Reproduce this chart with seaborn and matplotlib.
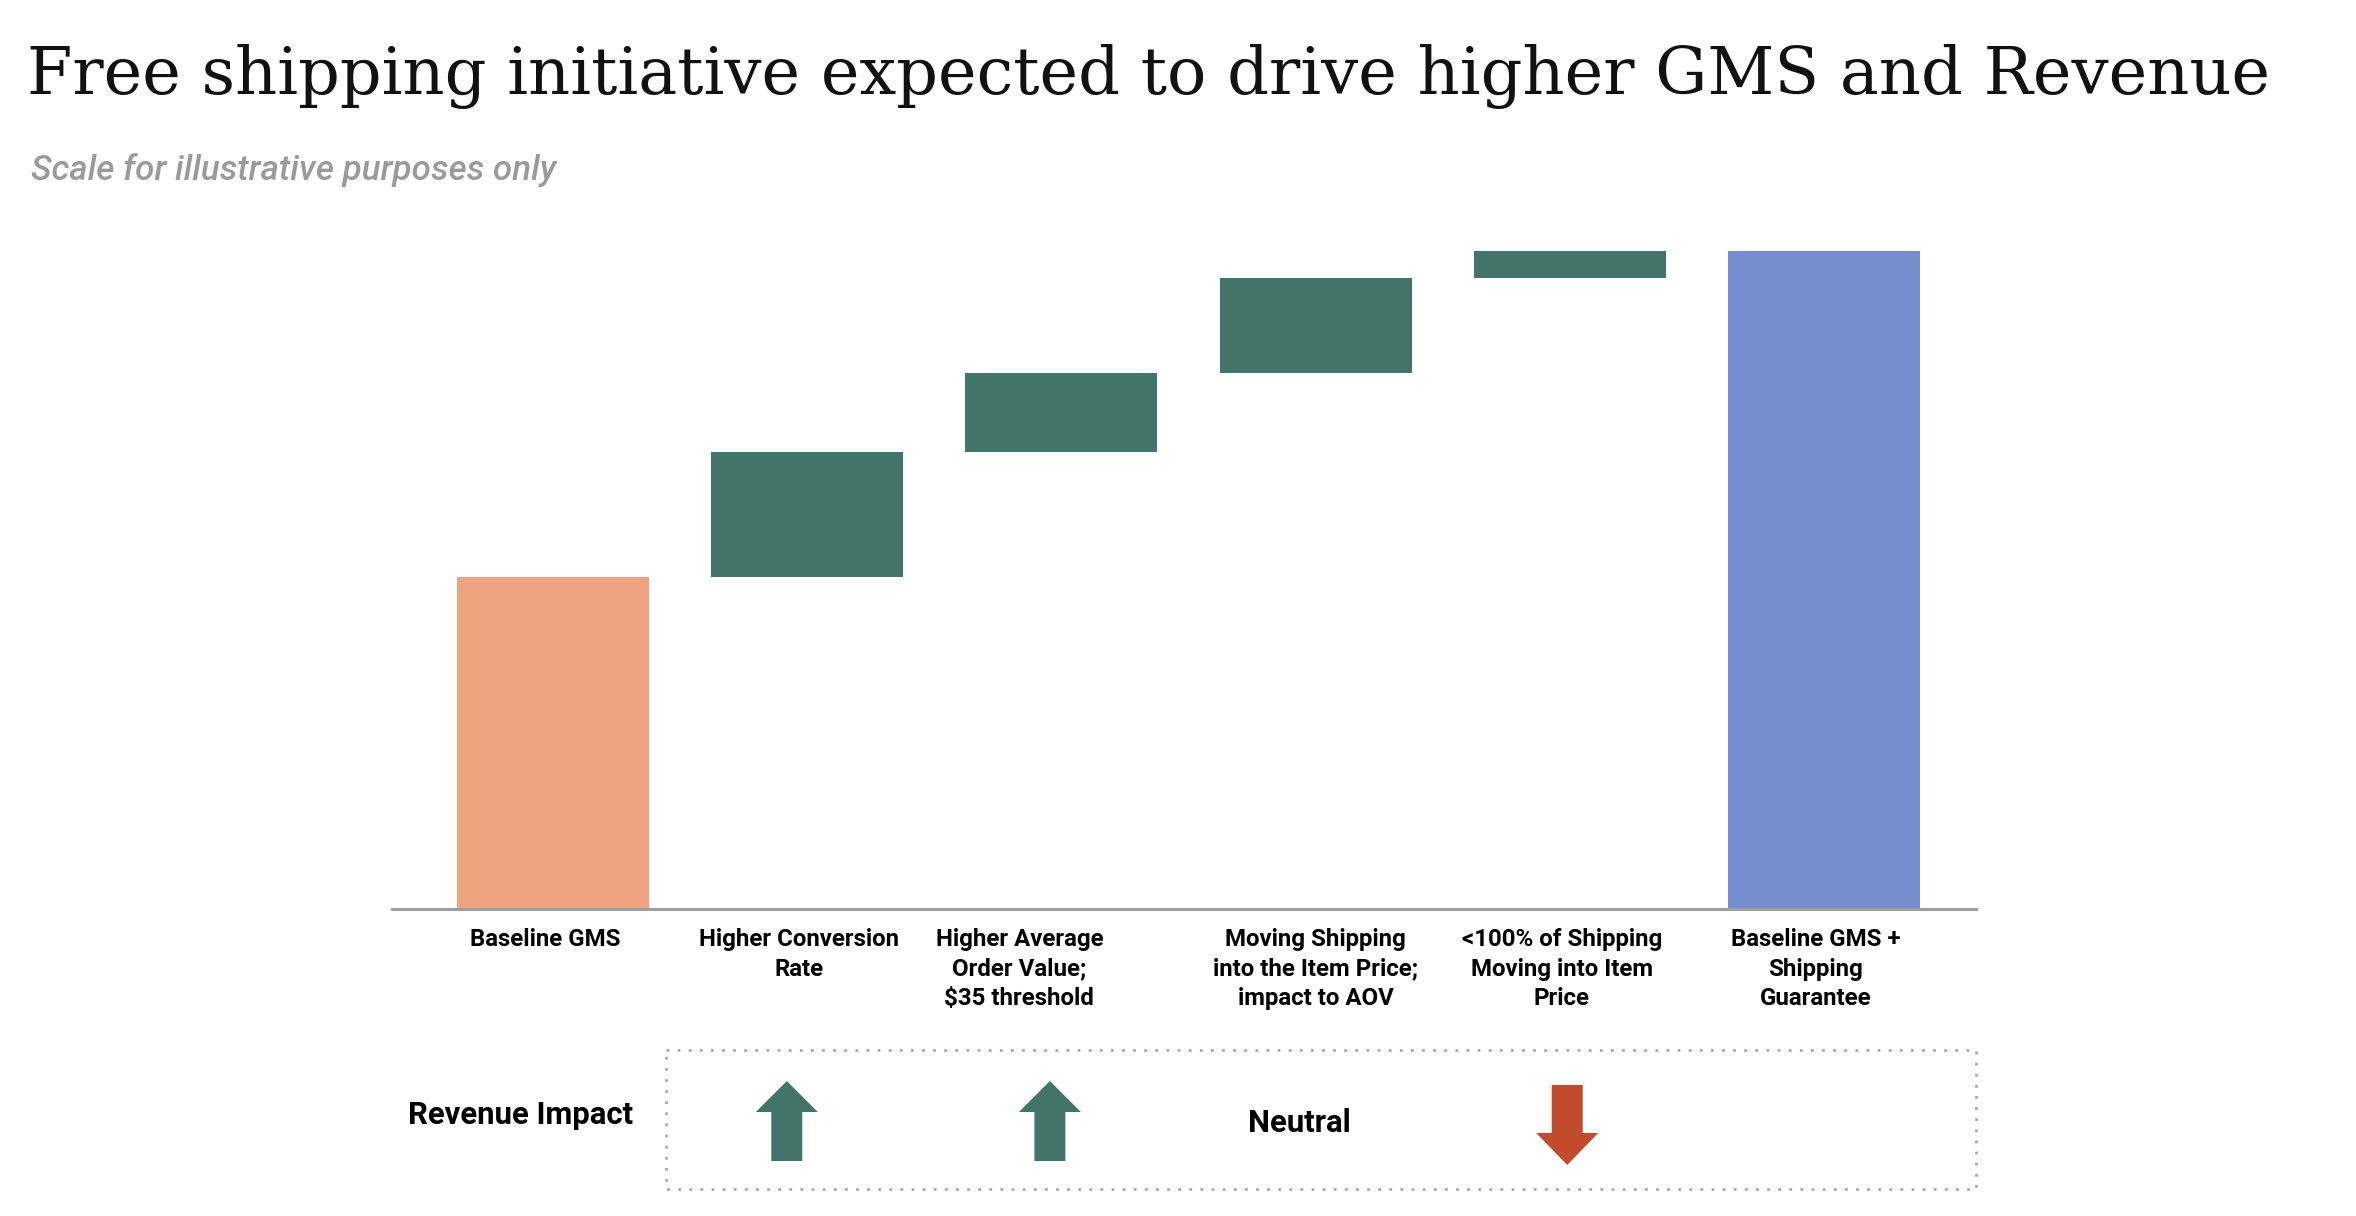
import matplotlib
matplotlib.use("Agg")
import matplotlib.pyplot as plt
import matplotlib.transforms as mtransforms
from matplotlib.patches import Rectangle, FancyArrow
import seaborn as sns
import pandas as pd
import numpy as np

# ---------------- data ----------------
categories = [
    "Baseline GMS",
    "Higher Conversion\nRate",
    "Higher Average\nOrder Value;\n$35 threshold",
    "Moving Shipping\ninto the Item Price;\nimpact to AOV",
    "<100% of Shipping\nMoving into Item\nPrice",
    "Baseline GMS +\nShipping\nGuarantee",
]
baseline_value = 50.5
increments = [19.0, 12.0, 14.4, 4.1]
total_value = 100.0
revenue_impact = ["up", "up", "neutral", "down"]   # for the four drivers

title_text = "Free shipping initiative expected to drive higher GMS and Revenue"
subtitle_text = "Scale for illustrative purposes only"
impact_label = "Revenue Impact"

# colours
c_base = "#EEA480"
c_step = "#42746C"
c_total = "#758DCF"
c_down = "#C34B2D"

# build waterfall table
heights = [baseline_value] + increments + [total_value]
bottoms = [0.0] + list(baseline_value + np.cumsum([0] + increments[:-1])) + [0.0]
colors = [c_base] + [c_step] * len(increments) + [c_total]
df = pd.DataFrame({"cat": categories, "height": heights})

# ---------------- figure ----------------
sns.set_theme(style="white")
plt.rcParams["font.family"] = ["Roboto", "DejaVu Sans"]

W, H = 2356, 1216
fig = plt.figure(figsize=(W / 100, H / 100), dpi=100)
fig.patch.set_facecolor("white")

ax = fig.add_axes([392 / W, 1 - 909 / H, (1976 - 392) / W, (909 - 251) / H])
sns.barplot(data=df, x="cat", y="height", order=categories, bottom=bottoms,
            color=c_step, errorbar=None, width=0.755, ax=ax, linewidth=0,
            saturation=1)
for p, c in zip(ax.patches, colors):
    p.set_facecolor(c)
    p.set_edgecolor(c)

ax.set_ylim(0, 100)
ax.set_xlim(-0.633, 5.598)
ax.set_xlabel("")
ax.set_ylabel("")
ax.set_yticks([])
for s in ["top", "right", "left"]:
    ax.spines[s].set_visible(False)
ax.spines["bottom"].set_color("#9E9E9E")
ax.spines["bottom"].set_linewidth(2.2)
ax.tick_params(axis="x", length=0, pad=14)
ax.set_xticks(range(len(categories)))
ax.set_xticklabels(categories, fontsize=17.3, fontweight="bold", color="black",
                   linespacing=1.35, va="top")
# labels sit slightly left of their bars (the third one more so)
label_shift_px = [-8, -8, -42, 0, -8, -8]
for lbl, dx in zip(ax.get_xticklabels(), label_shift_px):
    off = mtransforms.ScaledTranslation(dx / 100, 0, fig.dpi_scale_trans)
    lbl.set_transform(lbl.get_transform() + off)

# ---------------- titles ----------------
t = fig.text(27 / W, 1 - 94 / H, title_text, family="DejaVu Serif",
             fontsize=50, color="#111111", ha="left", va="baseline")
fig.canvas.draw()
bb = t.get_window_extent()
t.set_fontsize(50 * 2245 / bb.width)

st = fig.text(31 / W, 1 - 180 / H, subtitle_text, fontsize=24, style="italic",
              fontweight="medium", color="#9A9A9A", ha="left", va="baseline")
fig.canvas.draw()
sb = st.get_window_extent()
st.set_fontsize(24 * (557 - 31) / sb.width)

# ---------------- revenue impact box ----------------
ov = fig.add_axes([0, 0, 1, 1])
ov.set_xlim(0, W)
ov.set_ylim(H, 0)
ov.axis("off")
ov.patch.set_alpha(0)

ov.add_patch(Rectangle((666, 1050), 1976 - 666, 1189 - 1050, fill=False,
                       edgecolor="#A8A8A8", linewidth=2, linestyle=(0, (1, 3))))
ov.text(633, 1115, impact_label, fontsize=22.4, fontweight="bold",
        ha="right", va="center", color="black")

# arrow x centres follow the bar positions (data coords of main axes)
arrow_x_data = [0.92, 1.955, 2.935, 3.99]
to_px = ax.transData
for xd, kind in zip(arrow_x_data, revenue_impact):
    xpix = to_px.transform((xd, 0))[0]
    if kind == "up":
        ov.add_patch(FancyArrow(xpix, 1161, 0, -80, width=31, head_width=62,
                                head_length=31, length_includes_head=True,
                                color=c_step, linewidth=0))
    elif kind == "down":
        ov.add_patch(FancyArrow(xpix, 1085, 0, 80, width=31, head_width=62,
                                head_length=32, length_includes_head=True,
                                color=c_down, linewidth=0))
    else:
        ov.text(xpix, 1123, "Neutral", fontsize=22.4, fontweight="bold",
                ha="center", va="center", color="black")

fig.savefig("out.png", dpi=100, facecolor="white")
